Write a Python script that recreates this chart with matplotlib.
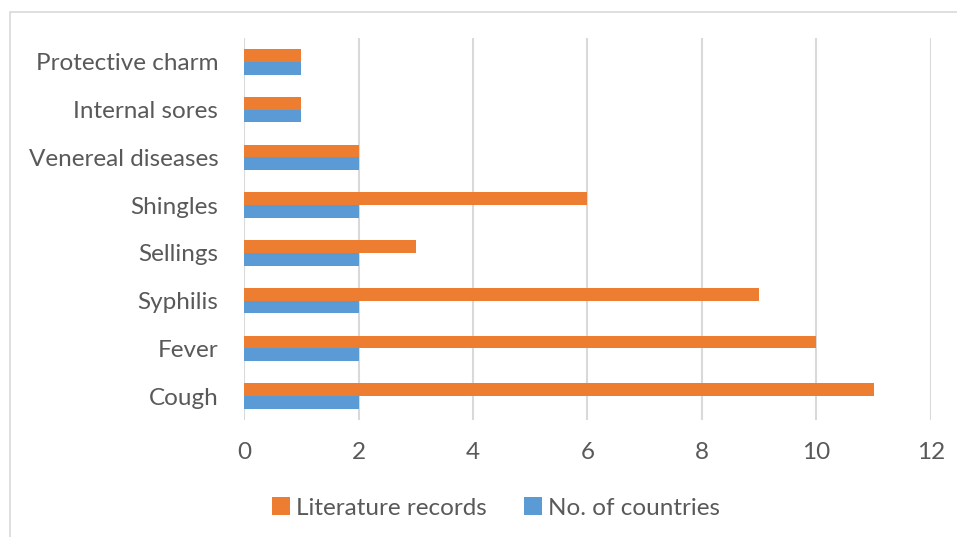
import numpy as np
import matplotlib.pyplot as plt
from matplotlib.patches import Rectangle

# data (bottom -> top)
categories = ["Cough", "Fever", "Syphilis", "Sellings", "Shingles",
              "Venereal diseases", "Internal sores", "Protective charm"]
literature_records = [11, 10, 9, 3, 6, 2, 1, 1]
no_of_countries = [2, 2, 2, 2, 2, 2, 1, 1]
xticks = [0, 2, 4, 6, 8, 10, 12]

ORANGE = "#ED7D31"
BLUE = "#5B9BD5"
TXT = "#595959"
GRID = "#D9D9D9"

plt.rcParams["font.family"] = ["Lato", "DejaVu Sans"]

fig = plt.figure(figsize=(9.57, 5.37), dpi=100)
ax = fig.add_axes([244 / 957, 1 - 420 / 537, (931 - 244) / 957, (420 - 38) / 537])

y = np.arange(len(categories))
h = 0.267
ax.barh(y + h / 2, literature_records, height=h, color=ORANGE, label="Literature records", zorder=3)
ax.barh(y - h / 2, no_of_countries, height=h, color=BLUE, label="No. of countries", zorder=3)

ax.set_xlim(0, 12)
ax.set_ylim(-0.5, len(categories) - 0.5)
ax.set_xticks(xticks)
ax.set_yticks(y)
ax.set_yticklabels(categories)
ax.tick_params(axis="both", length=0, labelsize=17.5, colors=TXT)
ax.tick_params(axis="x", pad=16)
ax.tick_params(axis="y", pad=18.5)
ax.xaxis.grid(True, color=GRID, linewidth=1.5, zorder=0)
for s in ax.spines.values():
    s.set_visible(False)

leg = fig.legend(loc="center", bbox_to_anchor=(0.518, 1 - 508 / 537), ncol=2, frameon=False,
                 fontsize=17.5, labelcolor=TXT, handlelength=0.75, handleheight=0.75,
                 handletextpad=0.22, columnspacing=1.55)

# outer chart border
fig.patches.append(Rectangle((10 / 957, -0.01), 1.0, 1 - 12 / 537 + 0.01, transform=fig.transFigure,
                             fill=False, edgecolor="#D9D9D9", linewidth=1.2))

fig.savefig("out.png", dpi=100)
